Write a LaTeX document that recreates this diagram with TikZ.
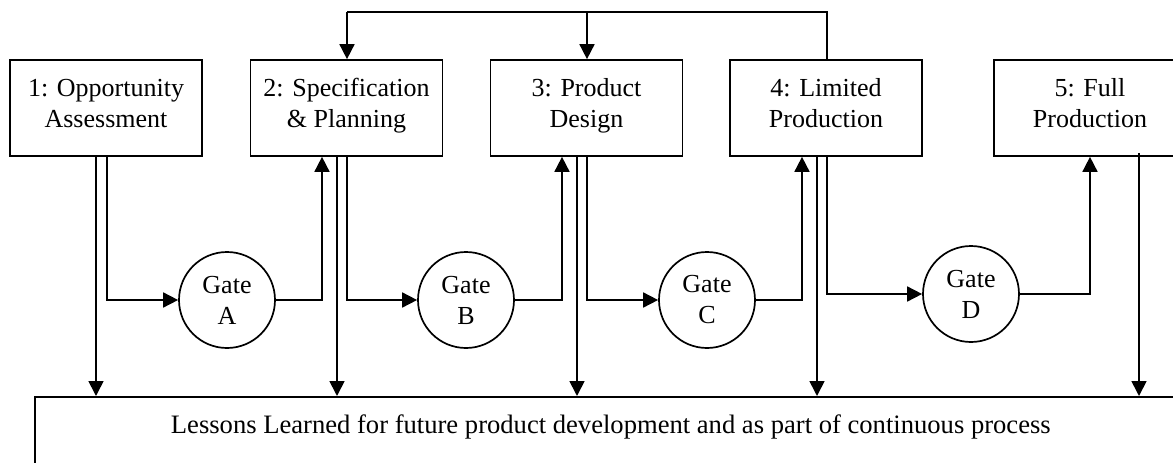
\documentclass[tikz,border=0pt]{standalone}
\usepackage{fontspec}
\setmainfont{Liberation Serif}
\usetikzlibrary{arrows.meta,calc}
\begin{document}
\begin{tikzpicture}[x=1pt,y=-1pt,
  line width=1.7pt,
  txt/.style={font=\fontsize{26}{31}\selectfont, align=center},
  phase/.style={txt, draw, rectangle, minimum width=192pt, minimum height=96pt, inner sep=0pt,
                text height=45pt, text depth=7pt},
  gate/.style={txt, draw, circle, minimum size=96pt, inner sep=0pt},
  arr/.style={-{Triangle[length=15pt,width=15pt]}}]
\useasboundingbox (0,0) rectangle (1173,463);
\clip (0,0) rectangle (1173,463);

% phases
\node[phase] (b1) at (106,108)   {1: Opportunity\\Assessment};
\node[phase] (b2) at (346.5,108) {2: Specification\\\&\ Planning};
\node[phase] (b3) at (586.5,108) {3: Product\\Design};
\node[phase] (b4) at (826,108)   {4: Limited\\Production};
\node[phase] (b5) at (1090,108)  {5: Full\\Production};

% gates
\node[gate] (gA) at (227,300) {Gate\\A};
\node[gate] (gB) at (466,300) {Gate\\B};
\node[gate] (gC) at (707,300) {Gate\\C};
\node[gate] (gD) at (971,294) {Gate\\D};

% lessons learned
\node[draw, rectangle, anchor=north west, minimum width=1152pt, minimum height=110pt, inner sep=0pt]
  (lessons) at (34,396) {};
\node[font=\fontsize{26.6}{31}\selectfont] (lessonstext) at ([yshift=-31pt]lessons.north)
  {Lessons Learned for future product development and as part of continuous process};

\coordinate (top) at (0,12);

% feedback from limited production
\draw ([xshift=1pt]b4.north) |- ([xshift=0.5pt]b2.north |- top);
\draw[arr] ([xshift=0.5pt]b2.north |- top) -- ([xshift=0.5pt]b2.north);
\draw[arr] ([xshift=0.5pt]b3.north |- top) -- ([xshift=0.5pt]b3.north);

% phase to gate to next phase
\draw[arr] ([xshift=1pt]b1.south) |- (gA.west);
\draw[arr] (gA.east) -| ([xshift=-24.5pt]b2.south);
\draw[arr] ([xshift=0.5pt]b2.south) |- (gB.west);
\draw[arr] (gB.east) -| ([xshift=-24.5pt]b3.south);
\draw[arr] ([xshift=0.5pt]b3.south) |- (gC.west);
\draw[arr] (gC.east) -| ([xshift=-24pt]b4.south);
\draw[arr] ([xshift=1pt]b4.south) |- (gD.west);
\draw[arr] (gD.east) -| (b5.south);

% each phase feeds lessons learned
\draw[arr] ([xshift=-10pt]b1.south) -- ([xshift=-10pt]b1.south |- lessons.north);
\draw[arr] ([xshift=-9.5pt]b2.south) -- ([xshift=-9.5pt]b2.south |- lessons.north);
\draw[arr] ([xshift=-9.5pt]b3.south) -- ([xshift=-9.5pt]b3.south |- lessons.north);
\draw[arr] ([xshift=-9pt]b4.south) -- ([xshift=-9pt]b4.south |- lessons.north);
\draw[arr] ([xshift=49pt,yshift=4pt]b5.south) -- ([xshift=49pt]b5.south |- lessons.north);
\end{tikzpicture}
\end{document}
